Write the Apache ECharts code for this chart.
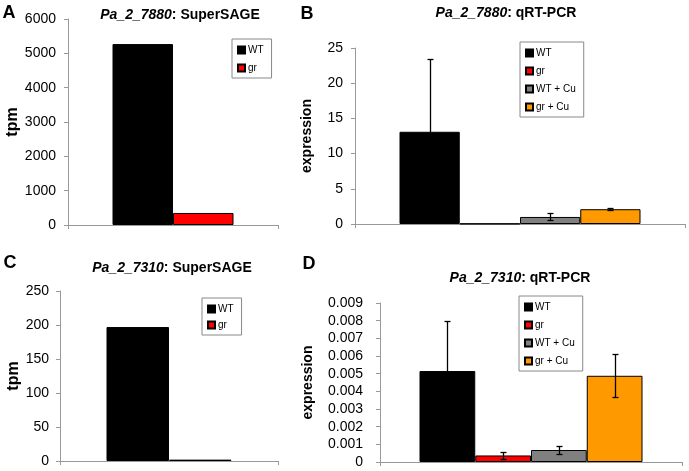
<!DOCTYPE html>
<html><head><meta charset="utf-8">
<script src="https://cdn.jsdelivr.net/npm/echarts@6/dist/echarts.min.js"></script>
<style>html,body{margin:0;padding:0;background:#fff}#c{width:689px;height:471px}</style>
</head><body><div id="c"></div>
<script>
// ---- data ----
const xCategory = [''];
const namesSAGE = ['WT', 'gr'];
const namesPCR = ['WT', 'gr', 'WT + Cu', 'gr + Cu'];
const tpmA = [5270, 350];            // Pa_2_7880 SuperSAGE
const exprB = [13.1, 0.05, 1.0, 2.1]; // Pa_2_7880 qRT-PCR
const errB = [10.3, 0, 0.5, 0.15];
const tpmC = [197, 2];               // Pa_2_7310 SuperSAGE
const exprD = [0.00515, 0.00037, 0.00068, 0.00488]; // Pa_2_7310 qRT-PCR
const errD = [0.00285, 0.00019, 0.00023, 0.00122];
const ticksA = {min: 0, max: 6000, interval: 1000};
const ticksB = {min: 0, max: 25, interval: 5};
const ticksC = {min: 0, max: 250, interval: 50};
const ticksD = {min: 0, max: 0.009, interval: 0.001};

// ---- style ----
const colorMap = {'WT': '#000000', 'gr': '#ff0000', 'WT + Cu': '#808080', 'gr + Cu': '#ff9900'};
const FONT = 'Liberation Sans';
const grids = [
  {left: 68, right: 411, top: 19, bottom: 246, barWidth: 60.5},
  {left: 355, right: 4, top: 48, bottom: 247, barWidth: 60.25},
  {left: 60, right: 411, top: 291, bottom: 10, barWidth: 62.5},
  {left: 380, right: 7, top: 303, bottom: 9, barWidth: 55.75}
];

function xAx(i) {
  return {type: 'category', gridIndex: i, data: xCategory,
    axisLine: {lineStyle: {color: '#999', width: 1}},
    axisTick: {show: true, length: 4, lineStyle: {color: '#999'}},
    axisLabel: {show: false}, splitLine: {show: false}};
}
function yAx(i, t, name, gap, margin, fs, fmt) {
  return {type: 'value', gridIndex: i, min: t.min, max: t.max, interval: t.interval,
    name: name, nameLocation: 'middle', nameGap: gap, nameRotate: 90,
    nameTextStyle: {fontFamily: FONT, fontWeight: 'bold', fontSize: fs, color: '#000'},
    axisLine: {show: true, lineStyle: {color: '#999', width: 1}},
    axisTick: {show: true, length: 4, lineStyle: {color: '#999'}},
    axisLabel: {fontFamily: FONT, fontSize: 14, color: '#000', margin: margin, formatter: fmt},
    splitLine: {show: false}};
}
function bars(names, vals, gi) {
  return names.map((n, k) => ({
    type: 'bar', name: n, xAxisIndex: gi, yAxisIndex: gi,
    data: [vals[k]], barWidth: grids[gi].barWidth, barGap: '0%',
    itemStyle: {color: colorMap[n], borderColor: '#000', borderWidth: 1},
    emphasis: {disabled: true}, animation: false
  }));
}
function errors(vals, errs, gi) {
  const n = vals.length;
  const bw = grids[gi].barWidth;
  return {
    type: 'custom', xAxisIndex: gi, yAxisIndex: gi, z: 10, animation: false,
    data: vals.map((v, k) => [0, v, errs[k], k]),
    encode: {x: 0, y: 1},
    renderItem: function (params, api) {
      const m = api.value(1), e = api.value(2), k = api.value(3);
      if (!e) return null;
      const c = api.coord([0, m]);
      const x = Math.round(c[0] + (k - (n - 1) / 2) * bw) + 0.5;
      const yt = Math.round(api.coord([0, m + e])[1]) + 0.5;
      const yb = Math.round(api.coord([0, Math.max(0, m - e)])[1]) + 0.5;
      const st = {stroke: '#000', lineWidth: 1.3};
      return {type: 'group', children: [
        {type: 'line', shape: {x1: x, y1: yt, x2: x, y2: yb}, style: st},
        {type: 'line', shape: {x1: x - 3, y1: yt, x2: x + 3, y2: yt}, style: st},
        {type: 'line', shape: {x1: x - 3, y1: yb, x2: x + 3, y2: yb}, style: st}
      ]};
    }
  };
}
function legend(names, left, top, gap) {
  return {data: names, orient: 'vertical', left: left, top: top,
    itemWidth: 7, itemHeight: 7, itemGap: gap, icon: 'rect',
    borderColor: '#888', borderWidth: 1, padding: [5, 8, 4, 5],
    backgroundColor: '#fff', selectedMode: false,
    textStyle: {fontFamily: FONT, fontSize: 10, color: '#000', padding: [0, 0, 0, -2], lineHeight: 12}};
}
function title(x, y, gene, method) {
  return {type: 'text', x: x, y: y, style: {
    text: '{i|' + gene + '}{b|: ' + method + '}', align: 'center', verticalAlign: 'middle',
    rich: {i: {fontFamily: FONT, fontWeight: 'bold', fontStyle: 'italic', fontSize: 14, fill: '#000'},
           b: {fontFamily: FONT, fontWeight: 'bold', fontSize: 14, fill: '#000'}}}};
}
function letter(x, y, t) {
  return {type: 'text', x: x, y: y, style: {text: t, align: 'center', verticalAlign: 'middle',
    fontFamily: FONT, fontWeight: 'bold', fontSize: 18, fill: '#000'}};
}
const fmtPlain = v => String(v);
const fmtD = v => v === 0 ? '0' : v.toFixed(3);

const chart = echarts.init(document.getElementById('c'), null, {renderer: 'canvas'});
chart.setOption({
  animation: false,
  grid: grids.map(g => ({left: g.left, right: g.right, top: g.top, bottom: g.bottom})),
  xAxis: [xAx(0), xAx(1), xAx(2), xAx(3)],
  yAxis: [
    yAx(0, ticksA, 'tpm', 40, 12, 16, fmtPlain),
    yAx(1, ticksB, 'expression', 41, 12, 14, fmtPlain),
    yAx(2, ticksC, 'tpm', 36, 11, 16, fmtPlain),
    yAx(3, ticksD, 'expression', 65, 17, 14, fmtD)
  ],
  legend: [
    legend(namesSAGE, 232, 39, 6),
    legend(namesPCR, 520, 42, 6),
    legend(namesSAGE, 202, 298, 4),
    legend(namesPCR, 519, 296, 6)
  ],
  series: [].concat(
    bars(namesSAGE, tpmA, 0),
    bars(namesPCR, exprB, 1), [errors(exprB, errB, 1)],
    bars(namesSAGE, tpmC, 2),
    bars(namesPCR, exprD, 3), [errors(exprD, errD, 3)]
  ),
  graphic: [
    title(180, 15, 'Pa_2_7880', 'SuperSAGE'),
    title(506, 13, 'Pa_2_7880', 'qRT-PCR'),
    title(172, 268, 'Pa_2_7310', 'SuperSAGE'),
    title(520, 278, 'Pa_2_7310', 'qRT-PCR'),
    letter(9, 13, 'A'), letter(307, 14, 'B'), letter(10, 263, 'C'), letter(309, 264, 'D')
  ]
});
</script></body></html>
